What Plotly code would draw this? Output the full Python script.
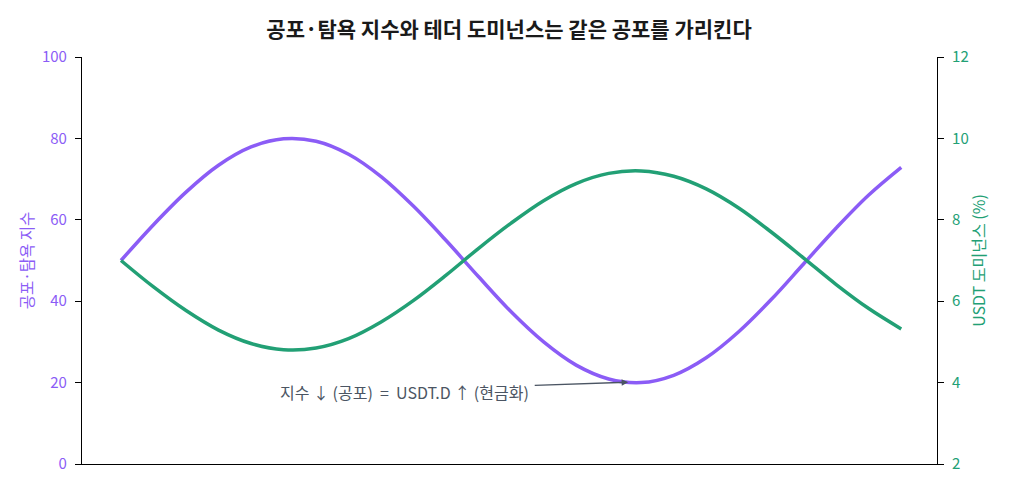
import plotly.graph_objects as go

x_idx = list(range(25))
fear_greed = [50, 58.8, 66.8, 73.4, 77.9, 79.9, 79.3, 76.1, 70.6, 63.3, 54.9, 46.0, 37.4,
              30.0, 24.3, 20.9, 20.0, 21.8, 26.1, 32.5, 40.4, 49.2, 58.0, 66.1, 72.9]
usdt_d = [7.0, 6.35, 5.77, 5.29, 4.96, 4.81, 4.85, 5.08, 5.49, 6.02, 6.64, 7.30, 7.92,
          8.47, 8.89, 9.14, 9.20, 9.07, 8.76, 8.29, 7.70, 7.06, 6.41, 5.82, 5.32]
left_ticks = [0, 20, 40, 60, 80, 100]
right_ticks = [2, 4, 6, 8, 10, 12]

PURPLE = "#8b5cf6"
GREEN = "#22a075"
GRAY = "#4b5563"
FONT = "Noto Sans CJK KR"

fig = go.Figure()
fig.add_trace(go.Scatter(x=x_idx, y=fear_greed, mode="lines",
                         line=dict(color=PURPLE, width=3.5, shape="spline"),
                         yaxis="y", showlegend=False))
fig.add_trace(go.Scatter(x=x_idx, y=usdt_d, mode="lines",
                         line=dict(color=GREEN, width=3.5, shape="spline"),
                         yaxis="y2", showlegend=False))

fig.update_layout(
    width=1010, height=495,
    margin=dict(l=82, r=73, t=57, b=31),
    paper_bgcolor="white", plot_bgcolor="white",
    font=dict(family=FONT, size=14),
    title=dict(text="<b>공포·탐욕 지수와 테더 도미넌스는 같은 공포를 가리킨다</b>",
               x=0.504, xanchor="center", y=0.94, yanchor="middle",
               font=dict(size=21, color="#1a1a1a", family=FONT)),
    xaxis=dict(range=[-1.2, 25.1], showgrid=False, zeroline=False, showticklabels=False,
               ticks="", showline=True, linecolor="black", linewidth=1.2),
    yaxis=dict(range=[0, 100], tickvals=left_ticks, showgrid=False, zeroline=False,
               showline=True, linecolor="black", linewidth=1.2,
               ticks="outside", ticklen=6, tickcolor="black", ticklabelstandoff=5,
               tickfont=dict(color=PURPLE, size=15),
               title=dict(text="공포·탐욕 지수", font=dict(color=PURPLE, size=15.5), standoff=4)),
    yaxis2=dict(range=[2, 12], tickvals=right_ticks, overlaying="y", side="right",
                showgrid=False, zeroline=False,
                showline=True, linecolor="black", linewidth=1.2,
                ticks="outside", ticklen=6, tickcolor="black", ticklabelstandoff=5,
                tickfont=dict(color=GREEN, size=15),
                title=dict(text="USDT 도미넌스 (%)", font=dict(color=GREEN, size=16), standoff=6)),
)

# annotation text
fig.add_annotation(x=12.62, y=17.7, xref="x", yref="y",
                   text="지수 ↓ (공포) &nbsp;= &nbsp;USDT.D ↑ (현금화)",
                   showarrow=False,
                   font=dict(color=GRAY, size=16, family=FONT),
                   xanchor="right", yanchor="middle")
# arrow
fig.add_annotation(x=15.6, y=20.1, xref="x", yref="y",
                   ax=12.68, ay=19.3, axref="x", ayref="y",
                   text="", showarrow=True, arrowhead=2, arrowsize=1, arrowwidth=1.3,
                   arrowcolor=GRAY)

fig.write_html("out.html")
